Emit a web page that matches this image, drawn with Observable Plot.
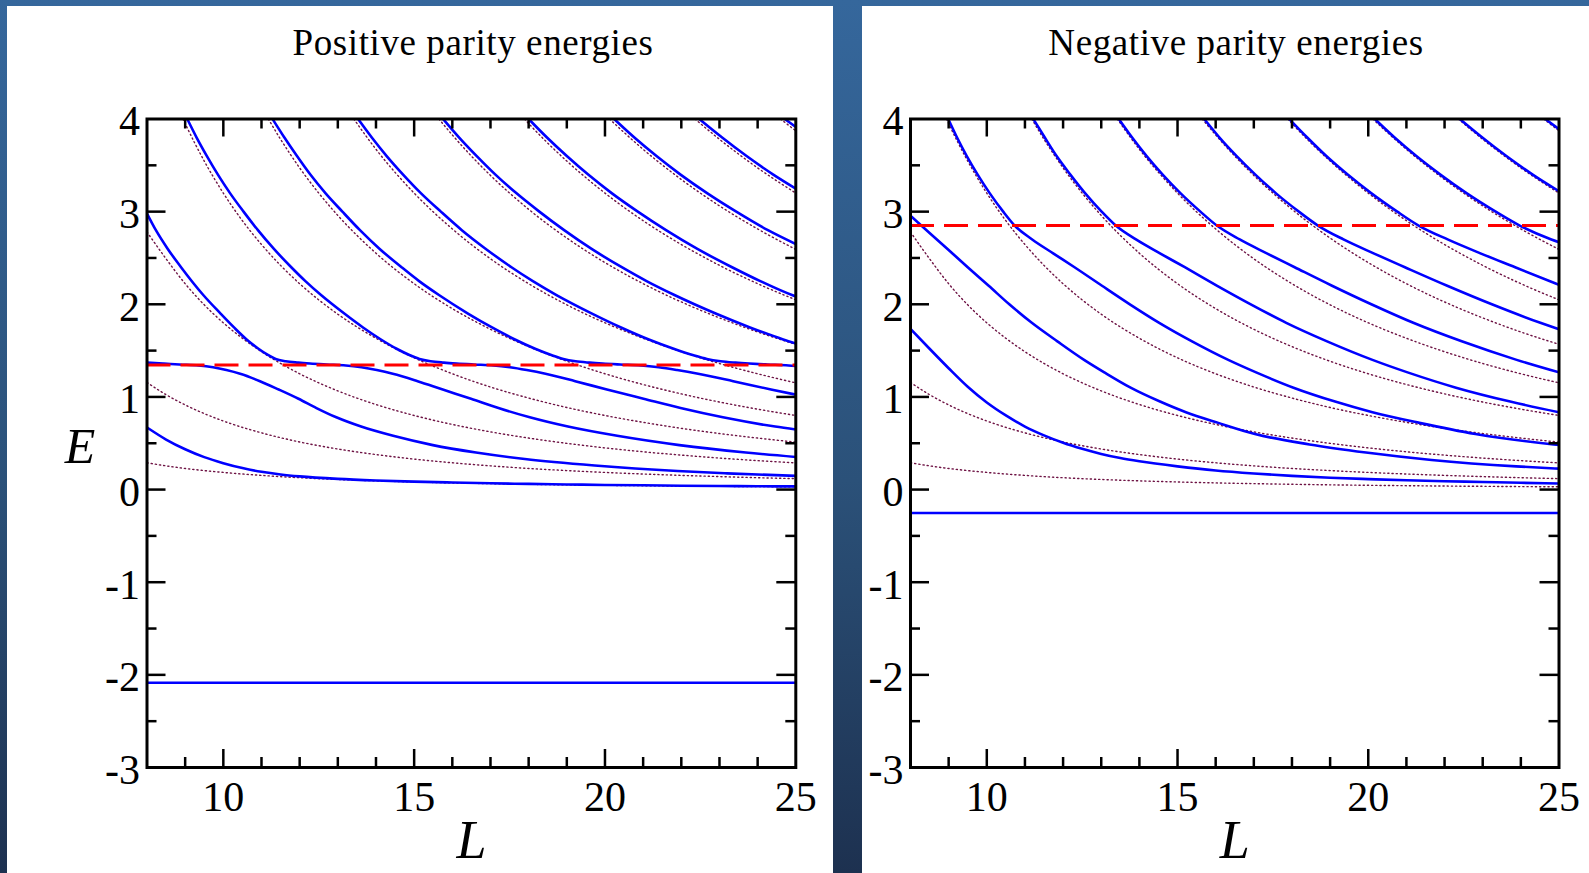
<!DOCTYPE html>
<html>
<head>
<meta charset="utf-8">
<script src="https://cdn.jsdelivr.net/npm/d3@7"></script>
<script src="https://cdn.jsdelivr.net/npm/@observablehq/plot@0.6"></script>
<style>
  html, body { margin: 0; padding: 0; }
  body {
    width: 1589px; height: 873px; position: relative; overflow: hidden;
    background: linear-gradient(180deg, #35679c 0%, #2b5179 55%, #1d3150 100%);
    font-family: "Liberation Serif", "Times New Roman", serif;
  }
  .panel { position: absolute; top: 6px; height: 867px; background: #fff; }
  .title {
    position: absolute; top: 24px; width: 600px; text-align: center;
    font-size: 37px; letter-spacing: 0.6px; line-height: 37px; color: #000; white-space: nowrap;
  }
  .chart { position: absolute; top: 70px; }
  .chart svg { display: block; max-width: none; }
</style>
</head>
<body>
<div class="panel" style="left:7px;width:826px"></div>
<div class="panel" style="left:862px;width:727px"></div>
<div class="title" style="left:173px">Positive parity energies</div>
<div class="title" style="left:936px">Negative parity energies</div>
<div class="chart" id="pos" style="left:7px;width:826px"></div>
<div class="chart" id="neg" style="left:862px;width:727px"></div>
<script>
// ---- axis ticks ----
const xTickLabels = [10, 15, 20, 25];
const xMajorTicks = [10, 15, 20];
const xMinorTicks = [9, 11, 12, 13, 14, 16, 17, 18, 19, 21, 22, 23, 24];
const yTickLabels = [-3, -2, -1, 0, 1, 2, 3, 4];
const yMajorTicks = [-2, -1, 0, 1, 2, 3];
const yMinorTicks = [-2.5, -1.5, -0.5, 0.5, 1.5, 2.5, 3.5];

// ---- free levels (dotted), [L, E], shared by both parities ----
const free1 = [[8,.289],[8.5,.256],[9,.228],[9.5,.205],[10,.185],[11,.153],[12,.128],[13,.109],[14,.094],[15,.082],[16,.072],[17,.064],[18,.057],[19,.051],[20,.046],[21,.042],[22,.038],[23,.035],[24,.032],[25,.030]];
const free2 = [[8,1.156],[8.5,1.024],[9,.914],[9.5,.82],[10,.74],[11,.612],[12,.514],[13,.438],[14,.378],[15,.329],[16,.289],[17,.256],[18,.228],[19,.205],[20,.185],[21,.168],[22,.153],[23,.140],[24,.128],[25,.118]];
const free3 = [[8,2.78],[8.5,2.491],[9,2.222],[9.5,1.994],[10,1.8],[10.5,1.633],[11,1.488],[12,1.25],[13,1.065],[14,.918],[15,.8],[16,.703],[17,.623],[18,.556],[19,.499],[20,.45],[21,.408],[22,.372],[23,.340],[24,.3125],[25,.288]];
const free4 = [[8.944,4],[9,3.951],[9.5,3.546],[10,3.2],[10.5,2.902],[11,2.645],[11.5,2.42],[12,2.222],[13,1.893],[14,1.633],[15,1.422],[16,1.25],[17,1.107],[18,.988],[19,.886],[20,.8],[21,.726],[22,.661],[23,.605],[24,.556],[25,.512]];
const free5 = [[11.18,4],[11.5,3.781],[12,3.472],[12.5,3.2],[13,2.959],[14,2.551],[15,2.222],[16,1.953],[17,1.730],[18,1.543],[19,1.385],[20,1.25],[21,1.134],[22,1.033],[23,.945],[24,.868],[25,.8]];
const free6 = [[13.42,4],[14,3.673],[14.5,3.424],[15,3.2],[16,2.813],[17,2.491],[18,2.222],[19,1.994],[20,1.8],[21,1.633],[22,1.488],[23,1.361],[24,1.25],[25,1.152]];
const free7 = [[15.65,4],[16,3.828],[16.5,3.6],[17,3.391],[18,3.025],[19,2.715],[20,2.45],[21,2.222],[22,2.025],[23,1.853],[24,1.701],[25,1.568]];
const free8 = [[17.89,4],[18,3.951],[18.5,3.74],[19,3.546],[20,3.2],[21,2.902],[22,2.645],[23,2.420],[24,2.222],[25,2.048]];
const free9 = [[20.12,4],[20.5,3.855],[21,3.673],[22,3.347],[23,3.062],[24,2.813],[25,2.592]];
const free10 = [[22.36,4],[23,3.781],[24,3.472],[25,3.2]];
const free11 = [[24.6,4],[25,3.872]];
const freeLevels = [free1, free2, free3, free4, free5, free6, free7, free8, free9, free10, free11];

// ---- positive parity: interacting levels, resonance, bound state ----
const posResonance = 1.345;
const posBound = -2.085;
const pos0 = [[8,.67],[8.5,.54],[9,.435],[9.5,.35],[10,.285],[10.5,.232],[11,.192],[11.5,.163],[12,.142],[13,.115],[14,.098],[15,.086],[16,.076],[17,.068],[18,.061],[19,.055],[20,.05],[21,.046],[22,.042],[23,.039],[24,.036],[25,.034]];
const pos1 = [[8,1.37],[8.44,1.36],[8.85,1.35],[9.35,1.34],[9.73,1.32],[10.08,1.29],[10.44,1.25],[10.96,1.17],[11.45,1.08],[11.97,.98],[12.44,.88],[12.96,.78],[13.61,.68],[14.45,.58],[15.49,.48],[16.62,.40],[17.9,.33],[19.73,.26],[21.9,.20],[23.2,.175],[25,.148]];
const pos2 = [[8,2.98],[8.233,2.8],[8.54,2.6],[8.892,2.4],[9.474,2.1],[9.927,1.9],[10.28,1.75],[10.61,1.62],[10.92,1.52],[11.18,1.45],[11.37,1.41],[11.63,1.385],[11.96,1.37],[12.27,1.36],[12.70,1.35],[13.21,1.34],[13.62,1.32],[14.02,1.29],[14.44,1.25],[15.09,1.17],[15.75,1.08],[16.49,.98],[17.21,.88],[18.03,.78],[19.03,.68],[20.32,.58],[21.95,.48],[23.69,.40],[25,.352]];
const pos3 = [[9.056,4],[9.30,3.8],[9.569,3.6],[9.858,3.4],[10.175,3.2],[10.53,3.0],[10.906,2.8],[11.32,2.6],[11.78,2.4],[12.15,2.25],[12.56,2.1],[13.17,1.9],[13.66,1.75],[14.13,1.62],[14.54,1.52],[14.89,1.45],[15.14,1.41],[15.43,1.385],[15.78,1.37],[16.11,1.36],[16.55,1.35],[17.08,1.34],[17.51,1.32],[17.95,1.29],[18.44,1.25],[19.22,1.17],[20.05,1.08],[21.01,.98],[21.98,.88],[23.09,.78],[24.46,.68],[25,.649]];
const pos4 = [[11.29,4],[11.6,3.8],[11.93,3.6],[12.28,3.4],[12.675,3.2],[13.12,3.0],[13.58,2.8],[14.09,2.6],[14.67,2.4],[15.13,2.25],[15.65,2.1],[16.41,1.9],[17.04,1.75],[17.64,1.62],[18.17,1.52],[18.61,1.45],[18.91,1.41],[19.23,1.385],[19.60,1.37],[19.94,1.36],[20.40,1.35],[20.94,1.34],[21.41,1.32],[21.89,1.29],[22.44,1.25],[23.36,1.17],[24.35,1.08],[25,1.025]];
const pos5 = [[13.53,4],[13.89,3.8],[14.28,3.6],[14.71,3.4],[15.175,3.2],[15.70,3.0],[16.25,2.8],[16.87,2.6],[17.55,2.4],[18.11,2.25],[18.73,2.1],[19.66,1.9],[20.42,1.75],[21.15,1.62],[21.80,1.52],[22.32,1.45],[22.67,1.41],[23.03,1.385],[23.42,1.37],[23.78,1.36],[24.25,1.35],[24.81,1.34],[25,1.333]];
const pos6 = [[15.76,4],[16.18,3.8],[16.64,3.6],[17.13,3.4],[17.675,3.2],[18.28,3.0],[18.93,2.8],[19.64,2.6],[20.44,2.4],[21.09,2.25],[21.82,2.1],[22.90,1.9],[23.80,1.75],[24.67,1.62],[25,1.577]];
const pos7 = [[18.0,4],[18.48,3.8],[19.0,3.6],[19.56,3.4],[20.175,3.2],[20.86,3.0],[21.6,2.8],[22.41,2.6],[23.33,2.4],[24.07,2.25],[24.90,2.1],[25,2.085]];
const pos8 = [[20.24,4],[20.77,3.8],[21.35,3.6],[21.98,3.4],[22.675,3.2],[23.44,3.0],[24.27,2.8],[25,2.65]];
const pos9 = [[22.47,4],[23.07,3.8],[23.71,3.6],[24.41,3.4],[25,3.248]];
const pos10 = [[24.71,4],[25,3.915]];
const posLevels = [pos0, pos1, pos2, pos3, pos4, pos5, pos6, pos7, pos8, pos9, pos10];

// ---- negative parity: interacting levels, resonance, bound state ----
const negResonance = 2.85;
const negBound = -0.253;
const neg0 = [[8,1.735],[8.5,1.52],[9,1.31],[9.5,1.11],[10,.94],[10.5,.8],[11,.68],[11.5,.585],[12,.505],[12.5,.44],[13,.385],[13.5,.34],[14,.305],[15,.25],[16,.205],[17,.173],[18,.148],[19,.128],[20,.113],[21,.1],[22,.09],[23,.082],[24,.073],[25,.066]];
const neg1 = [[8,2.955],[8.5,2.77],[9,2.585],[9.5,2.4],[10.05,2.2],[10.59,2.0],[11.18,1.8],[11.85,1.6],[12.55,1.4],[13.08,1.265],[13.77,1.1],[14.54,.95],[15.22,.835],[16.07,.72],[17.03,.6],[18.46,.487],[19.94,.4],[21.66,.32],[23.88,.25],[25,.226]];
const neg2 = [[8.99,4],[9.22,3.8],[9.475,3.6],[9.76,3.4],[10.075,3.2],[10.43,3.0],[10.73,2.85],[11.19,2.7],[11.74,2.55],[12.30,2.4],[13.02,2.2],[13.75,2.0],[14.52,1.8],[15.38,1.6],[16.33,1.4],[17.06,1.265],[18.04,1.1],[19.13,.95],[20.11,.835],[21.34,.72],[22.81,.6],[24.86,.487],[25,.481]];
const neg3 = [[11.22,4],[11.52,3.8],[11.83,3.6],[12.19,3.4],[12.575,3.2],[13.01,3.0],[13.38,2.85],[13.91,2.7],[14.54,2.55],[15.19,2.4],[16.04,2.2],[16.92,2.0],[17.85,1.8],[18.92,1.6],[20.11,1.4],[21.03,1.265],[22.30,1.1],[23.72,.95],[25,.835]];
const neg4 = [[13.46,4],[13.81,3.8],[14.19,3.6],[14.61,3.4],[15.075,3.2],[15.60,3.0],[16.03,2.85],[16.63,2.7],[17.34,2.55],[18.07,2.4],[19.05,2.2],[20.08,2.0],[21.18,1.8],[22.45,1.6],[23.89,1.4],[25,1.265]];
const neg5 = [[15.70,4],[16.10,3.8],[16.55,3.6],[17.04,3.4],[17.575,3.2],[18.18,3.0],[18.68,2.85],[19.35,2.7],[20.14,2.55],[20.96,2.4],[22.07,2.2],[23.24,2.0],[24.51,1.8],[25,1.73]];
const neg6 = [[17.93,4],[18.40,3.8],[18.90,3.6],[19.46,3.4],[20.075,3.2],[20.76,3.0],[21.32,2.85],[22.08,2.7],[22.94,2.55],[23.85,2.4],[25,2.21]];
const neg7 = [[20.17,4],[20.69,3.8],[21.26,3.6],[21.89,3.4],[22.575,3.2],[23.34,3.0],[23.97,2.85],[24.80,2.7],[25,2.67]];
const neg8 = [[22.40,4],[22.99,3.8],[23.62,3.6],[24.31,3.4],[25,3.22]];
const neg9 = [[24.64,4],[25,3.89]];
const negLevels = [neg0, neg1, neg2, neg3, neg4, neg5, neg6, neg7, neg8, neg9];

// ---- drawing ----
const FONT = "'Liberation Serif', 'Times New Roman', serif";
const BLUE = "#0000ff", DOTS = "#6e1344", RED = "#ff0000";

function energyPanel({levels, resonance, bound, width, marginLeft, marginRight, showE}) {
  const height = 803, marginTop = 48.5, marginBottom = 106;
  const innerW = width - marginLeft - marginRight;
  const innerH = height - marginTop - marginBottom;
  const pt = {x: d => d[0], y: d => d[1]};
  const marks = [
    ...freeLevels.map(c => Plot.line(c, {...pt, stroke: DOTS, strokeWidth: 1.4, strokeDasharray: "1.2,3", curve: "monotone-x", clip: true})),
    ...levels.map(c => Plot.line(c, {...pt, stroke: BLUE, strokeWidth: 2.6, curve: "monotone-x", clip: true})),
    Plot.ruleY([bound], {stroke: BLUE, strokeWidth: 2.6}),
    Plot.ruleY([resonance], {stroke: RED, strokeWidth: 3, strokeDasharray: "24,10"}),
    // inward ticks on all four sides
    Plot.tickX(xMajorTicks, {x: d => d, insetTop: innerH - 18, stroke: "#000", strokeWidth: 2.5}),
    Plot.tickX(xMinorTicks, {x: d => d, insetTop: innerH - 10, stroke: "#000", strokeWidth: 2.5}),
    Plot.tickX(xMajorTicks, {x: d => d, insetBottom: innerH - 18, stroke: "#000", strokeWidth: 2.5}),
    Plot.tickX(xMinorTicks, {x: d => d, insetBottom: innerH - 10, stroke: "#000", strokeWidth: 2.5}),
    Plot.tickY(yMajorTicks, {y: d => d, insetRight: innerW - 19, stroke: "#000", strokeWidth: 2.5}),
    Plot.tickY(yMinorTicks, {y: d => d, insetRight: innerW - 10, stroke: "#000", strokeWidth: 2.5}),
    Plot.tickY(yMajorTicks, {y: d => d, insetLeft: innerW - 19, stroke: "#000", strokeWidth: 2.5}),
    Plot.tickY(yMinorTicks, {y: d => d, insetLeft: innerW - 10, stroke: "#000", strokeWidth: 2.5}),
    Plot.frame({stroke: "#000", strokeWidth: 3}),
    Plot.axisX(xTickLabels, {tickSize: 0, tickPadding: 14, tickFormat: d => String(d), fontSize: 42, label: null}),
    Plot.axisY(yTickLabels, {tickSize: 0, tickPadding: 7, dy: 3, tickFormat: d => String(d), fontSize: 42, label: null}),
    Plot.text(["L"], {text: d => d, frameAnchor: "bottom", lineAnchor: "bottom", dy: 90, fontSize: 54, fontStyle: "italic", fill: "#000"})
  ];
  if (showE) marks.push(Plot.text(["E"], {text: d => d, frameAnchor: "left", lineAnchor: "middle", textAnchor: "middle", dx: -67, dy: 4, fontSize: 50, fontStyle: "italic", fill: "#000"}));
  return Plot.plot({
    width, height, marginTop, marginBottom, marginLeft, marginRight,
    x: {domain: [8, 25]},
    y: {domain: [-3, 4]},
    style: {background: "transparent", color: "#000", fontFamily: FONT, fontSize: "42px", overflow: "visible"},
    marks
  });
}

document.getElementById("pos").append(energyPanel({
  levels: posLevels, resonance: posResonance, bound: posBound,
  width: 826, marginLeft: 139.5, marginRight: 37.7, showE: true
}));
document.getElementById("neg").append(energyPanel({
  levels: negLevels, resonance: negResonance, bound: negBound,
  width: 727, marginLeft: 48, marginRight: 30.5, showE: false
}));
</script>
</body>
</html>
